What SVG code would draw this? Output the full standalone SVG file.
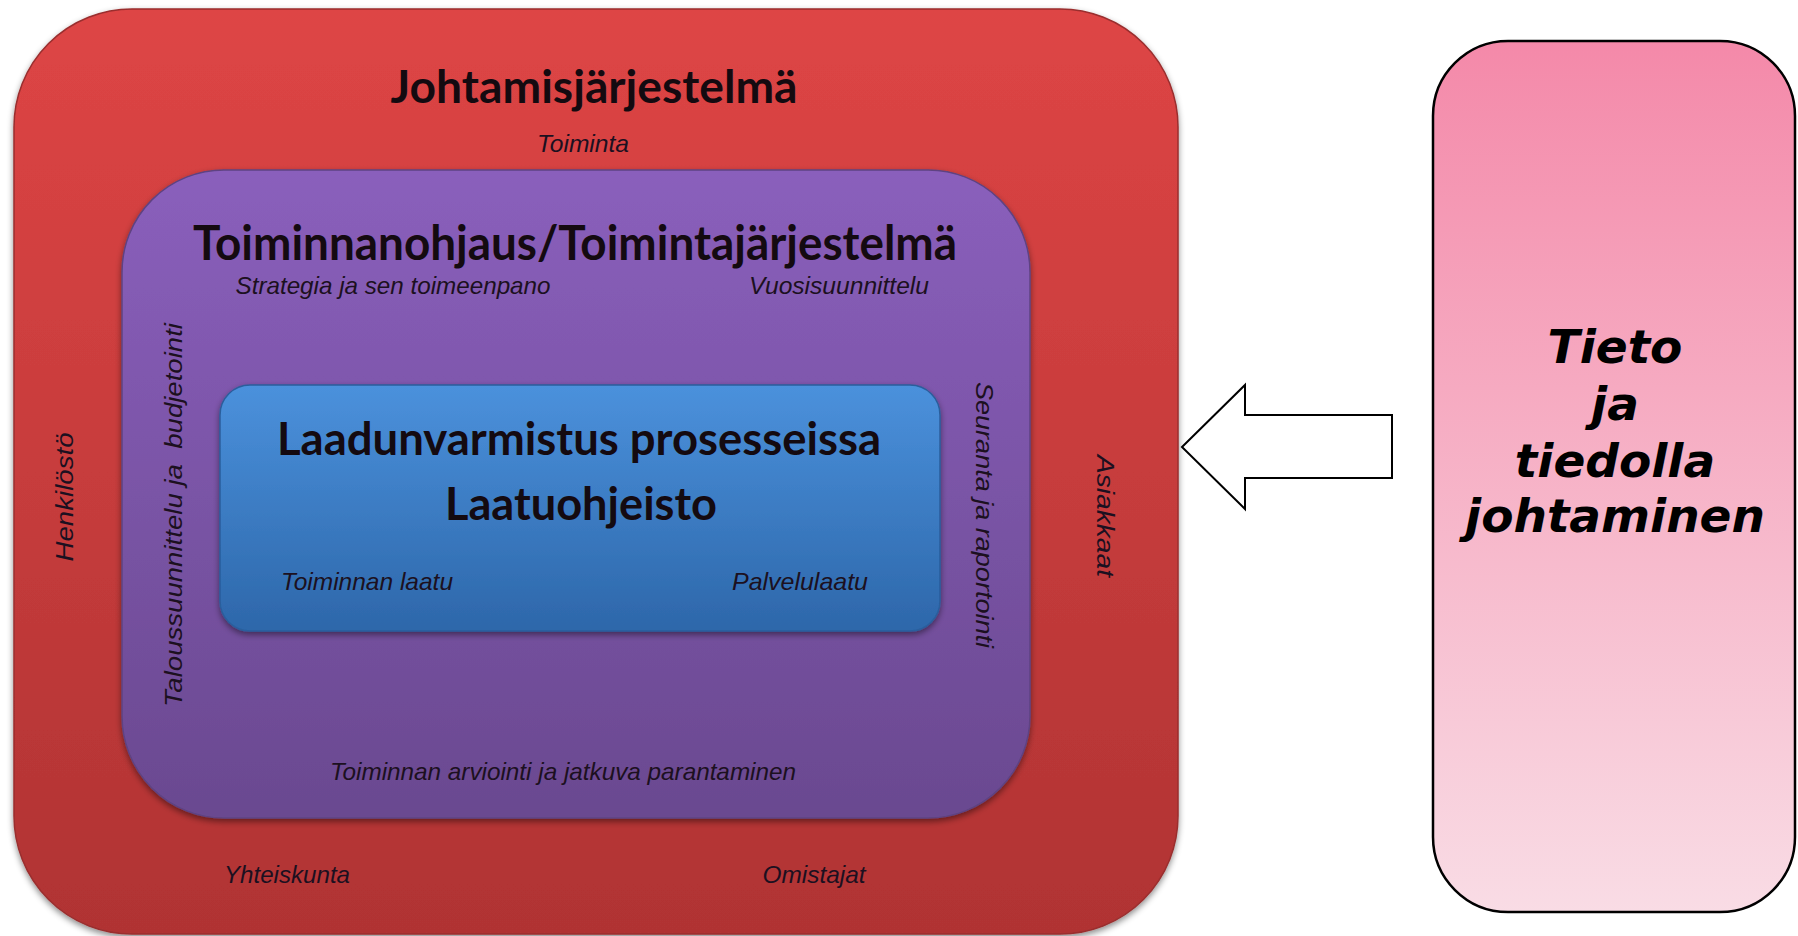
<svg xmlns="http://www.w3.org/2000/svg" width="1798" height="936" viewBox="0 0 1798 936">
<defs>
<linearGradient id="gRed" x1="0" y1="0" x2="0" y2="1">
<stop offset="0" stop-color="#DE4545"/>
<stop offset="1" stop-color="#B03333"/>
</linearGradient>
<linearGradient id="gPurple" x1="0" y1="0" x2="0" y2="1">
<stop offset="0" stop-color="#8A5FBC"/>
<stop offset="1" stop-color="#6A4990"/>
</linearGradient>
<linearGradient id="gBlue" x1="0" y1="0" x2="0" y2="1">
<stop offset="0" stop-color="#4B91DC"/>
<stop offset="1" stop-color="#2D67AA"/>
</linearGradient>
<linearGradient id="gPink" x1="0" y1="0" x2="0" y2="1">
<stop offset="0" stop-color="#F489A9"/>
<stop offset="1" stop-color="#F9DCE5"/>
</linearGradient>
<filter id="shadow" x="-5%" y="-5%" width="110%" height="110%">
<feDropShadow dx="0" dy="3" stdDeviation="3" flood-color="#000" flood-opacity="0.45"/>
</filter>
</defs>
<style>
.title{font-family:Lato,"Open Sans","Liberation Sans",sans-serif;font-weight:bold;fill:#140a10;text-anchor:middle}
.lab{font-family:"Liberation Sans",Arial,sans-serif;font-style:italic;fill:#1c1020;text-anchor:middle}
.vlab{font-family:"Liberation Sans",Arial,sans-serif;font-style:italic;fill:#1c1020;text-anchor:middle}
.pink{font-family:"DejaVu Sans",Verdana,sans-serif;font-weight:bold;font-style:oblique;fill:#000;text-anchor:middle;font-size:47px}
</style>
<rect width="1798" height="936" fill="#fff"/>

<g id="johtamisjarjestelma">
<rect x="14" y="9" width="1164" height="925" rx="118" ry="118" fill="url(#gRed)" stroke="#9a2e2e" stroke-width="1.5" filter="url(#shadow)"/>
<text class="title" x="594" y="103" font-size="46" textLength="407" lengthAdjust="spacingAndGlyphs">Johtamisjärjestelmä</text>
<text class="lab" x="583" y="152" font-size="24" textLength="92" lengthAdjust="spacingAndGlyphs">Toiminta</text>
<text class="vlab" transform="translate(73,497) rotate(-90)" font-size="24" textLength="129" lengthAdjust="spacingAndGlyphs">Henkilöstö</text>
<text class="vlab" transform="translate(1097,516) rotate(90)" font-size="24" textLength="122" lengthAdjust="spacingAndGlyphs">Asiakkaat</text>
<text class="lab" x="287" y="883" font-size="24" textLength="126" lengthAdjust="spacingAndGlyphs">Yhteiskunta</text>
<text class="lab" x="814" y="883" font-size="24" textLength="103" lengthAdjust="spacingAndGlyphs">Omistajat</text>
</g>

<g id="toiminnanohjaus">
<rect x="122" y="170" width="908" height="648" rx="102" ry="102" fill="url(#gPurple)" stroke="#5e4382" stroke-width="1.5" filter="url(#shadow)"/>
<text class="title" x="575" y="260" font-size="48" textLength="764" lengthAdjust="spacingAndGlyphs">Toiminnanohjaus/Toimintajärjestelmä</text>
<text class="lab" x="393" y="294" font-size="24" textLength="315" lengthAdjust="spacingAndGlyphs">Strategia ja sen toimeenpano</text>
<text class="lab" x="839" y="294" font-size="24" textLength="180" lengthAdjust="spacingAndGlyphs">Vuosisuunnittelu</text>
<text class="vlab" transform="translate(182,515) rotate(-90)" font-size="24" textLength="384" lengthAdjust="spacingAndGlyphs" xml:space="preserve">Taloussuunnittelu ja  budjetointi</text>
<text class="vlab" transform="translate(976,515) rotate(90)" font-size="24" textLength="266" lengthAdjust="spacingAndGlyphs">Seuranta ja raportointi</text>
<text class="lab" x="563" y="780" font-size="24" textLength="466" lengthAdjust="spacingAndGlyphs">Toiminnan arviointi ja jatkuva parantaminen</text>
</g>

<g id="laadunvarmistus">
<rect x="220" y="385" width="720" height="246" rx="30" ry="30" fill="url(#gBlue)" stroke="#2a5e9c" stroke-width="1.5" filter="url(#shadow)"/>
<text class="title" x="579" y="455" font-size="46" textLength="604" lengthAdjust="spacingAndGlyphs">Laadunvarmistus prosesseissa</text>
<text class="title" x="581" y="520" font-size="46" textLength="272" lengthAdjust="spacingAndGlyphs">Laatuohjeisto</text>
<text class="lab" x="367" y="590" font-size="24" textLength="172" lengthAdjust="spacingAndGlyphs">Toiminnan laatu</text>
<text class="lab" x="800" y="590" font-size="24" textLength="136" lengthAdjust="spacingAndGlyphs">Palvelulaatu</text>
</g>

<g id="tieto">
<rect x="1433" y="41" width="362" height="871" rx="75" ry="75" fill="url(#gPink)" stroke="#000" stroke-width="2.5"/>
<text class="pink" x="1615" y="363">Tieto</text>
<text class="pink" x="1615" y="420">ja</text>
<text class="pink" x="1615" y="477">tiedolla</text>
<text class="pink" x="1615" y="532">johtaminen</text>
</g>

<g id="connectors">
<polygon points="1182,447 1245,385 1245,415 1392,415 1392,478 1245,478 1245,509" fill="#fff" stroke="#000" stroke-width="2"/>
</g>
</svg>
